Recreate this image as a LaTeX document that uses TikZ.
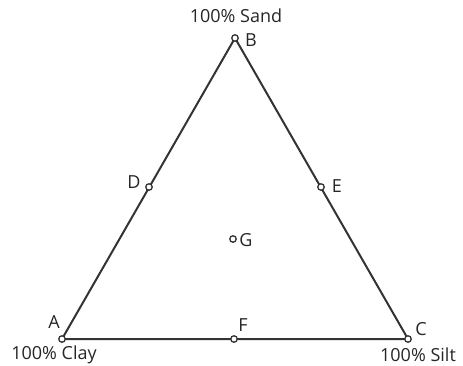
\documentclass[tikz,border=0pt]{standalone}
\usepackage{fontspec}
\setmainfont{Open Sans}
\begin{document}
\begin{tikzpicture}[x=1pt,y=-1pt,
  pt/.style={circle,draw=black!80,line width=1.3pt,fill=white,inner sep=0pt,minimum size=6.5pt},
  lbl/.style={text=black!85,font=\fontsize{18}{20}\selectfont,inner sep=0pt},
  edge/.style={draw=black!80,line width=2pt}]
\useasboundingbox (0,0) rectangle (463,365);
\coordinate (A) at (62,339);
\coordinate (B) at (235,38);
\coordinate (C) at (408,339);
\draw[edge,line join=round] (A) -- (B) -- (C) -- cycle;
\node[pt] (pA) at (A) {};
\node[pt] (pB) at (B) {};
\node[pt] (pC) at (C) {};
\node[pt] (pD) at (149,187) {};
\node[pt] (pE) at (321,187) {};
\node[pt] (pF) at (234,339) {};
\node[pt] (pG) at (233,239) {};
\node[lbl] (tB) at (251,40) {B};
\node[lbl] (tA) at (54,322) {A};
\node[lbl] (tC) at (421,329) {C};
\node[lbl] (tD) at (134,182) {D};
\node[lbl] (tE) at (337,186) {E};
\node[lbl] (tF) at (243,325) {F};
\node[lbl] (tG) at (246,240) {G};
\node[lbl] (sand) at (236,16) {100\% Sand};
\node[lbl] (clay) at (54,355) {100\% Clay};
\node[lbl] (silt) at (418,355) {100\% Silt};
\end{tikzpicture}
\end{document}
